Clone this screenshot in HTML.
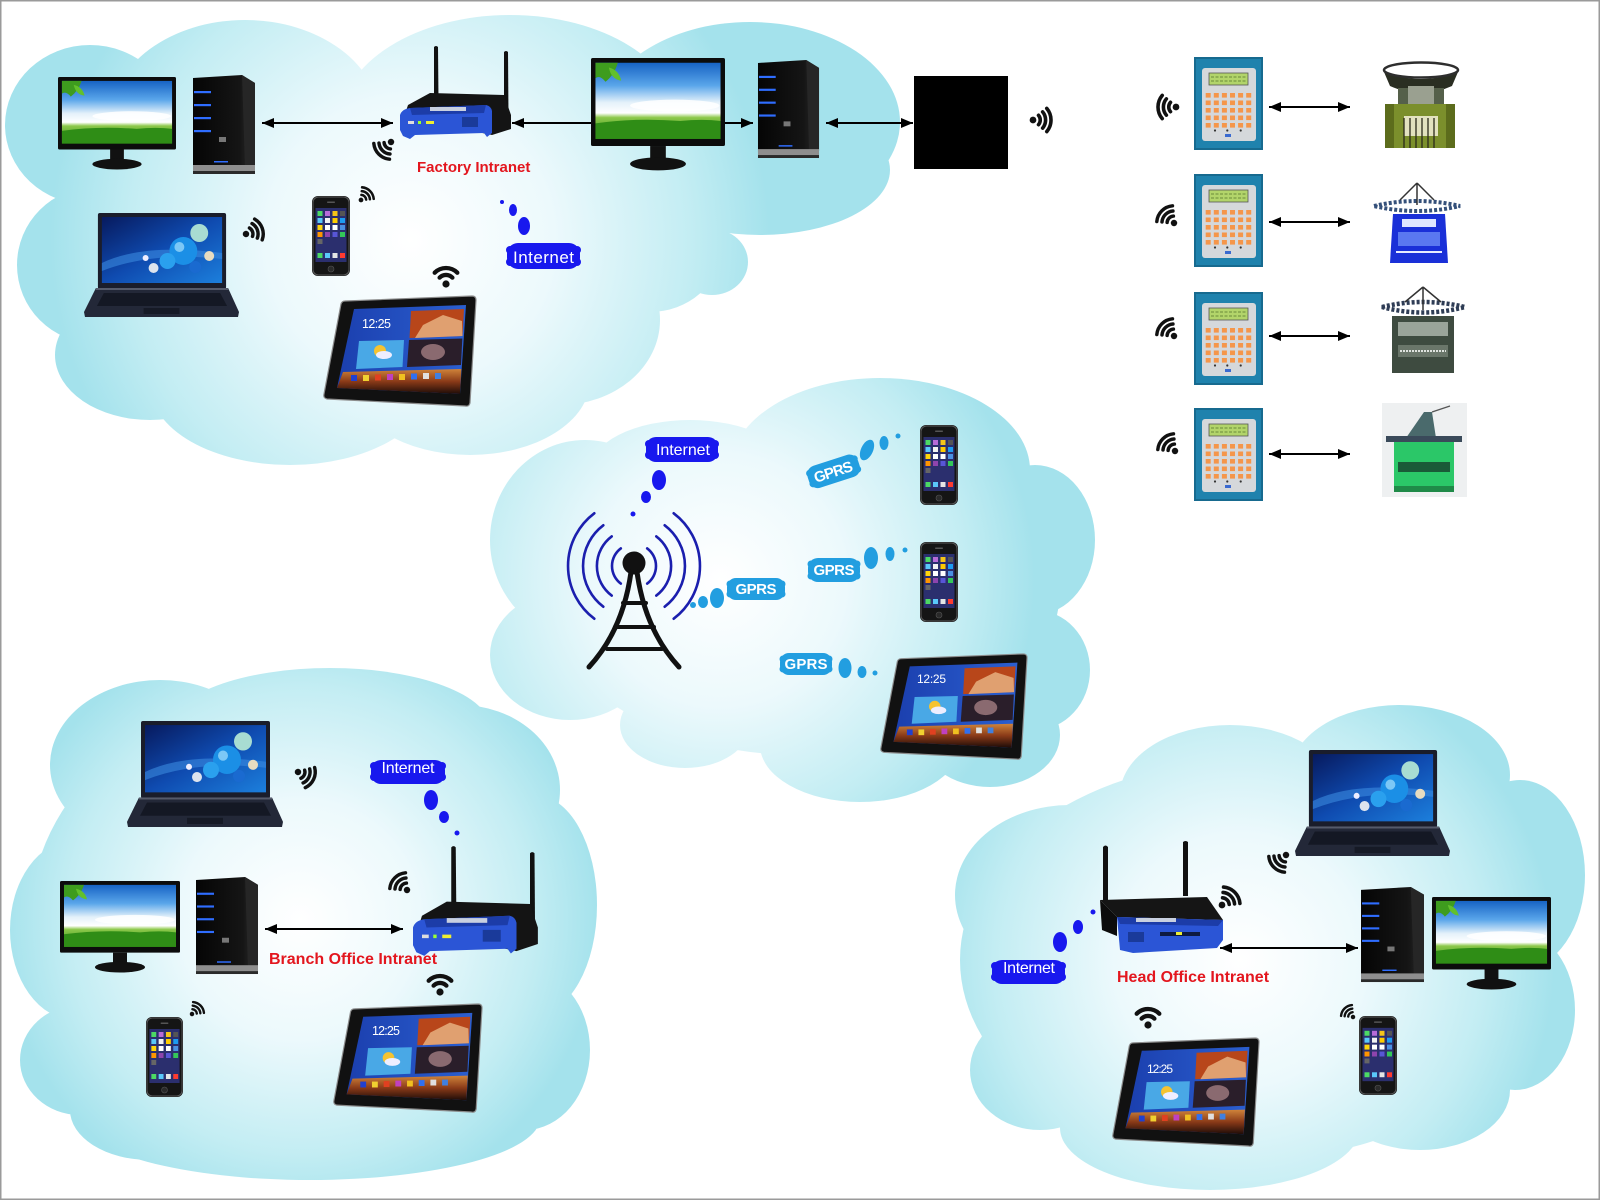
<!DOCTYPE html>
<html><head><meta charset="utf-8"><title>Factory Network</title>
<style>html,body{margin:0;padding:0;background:#fff;width:1600px;height:1200px;overflow:hidden}svg{display:block}</style></head>
<body>
<svg xmlns="http://www.w3.org/2000/svg" width="1600" height="1200" viewBox="0 0 1600 1200" font-family="'Liberation Sans', Arial, sans-serif">
<defs>
<radialGradient id="cg1" gradientUnits="userSpaceOnUse" cx="410" cy="240" r="360"><stop offset="0" stop-color="#ffffff"/><stop offset=".4" stop-color="#ecf9fc"/><stop offset=".78" stop-color="#c3edf3"/><stop offset="1" stop-color="#a4e2ec"/></radialGradient>
<radialGradient id="cg2" gradientUnits="userSpaceOnUse" cx="720" cy="580" r="315"><stop offset="0" stop-color="#ffffff"/><stop offset=".4" stop-color="#ecf9fc"/><stop offset=".78" stop-color="#c3edf3"/><stop offset="1" stop-color="#a4e2ec"/></radialGradient>
<radialGradient id="cg3" gradientUnits="userSpaceOnUse" cx="300" cy="920" r="300"><stop offset="0" stop-color="#ffffff"/><stop offset=".4" stop-color="#ecf9fc"/><stop offset=".78" stop-color="#c3edf3"/><stop offset="1" stop-color="#a4e2ec"/></radialGradient>
<radialGradient id="cg4" gradientUnits="userSpaceOnUse" cx="1240" cy="960" r="315"><stop offset="0" stop-color="#ffffff"/><stop offset=".4" stop-color="#ecf9fc"/><stop offset=".78" stop-color="#c3edf3"/><stop offset="1" stop-color="#a4e2ec"/></radialGradient>
<linearGradient id="sky" x1="0" y1="0" x2="0" y2="1"><stop offset="0" stop-color="#1763c4"/><stop offset=".3" stop-color="#5aa6ea"/><stop offset=".52" stop-color="#e4f1fa"/><stop offset=".66" stop-color="#ffffff"/><stop offset=".72" stop-color="#8cc84a"/><stop offset="1" stop-color="#2f8a16"/></linearGradient>
<linearGradient id="lscr" x1="0" y1="0" x2="1" y2="1"><stop offset="0" stop-color="#071a5e"/><stop offset=".5" stop-color="#0f4bb0"/><stop offset="1" stop-color="#1c7fdc"/></linearGradient>
<linearGradient id="tscr" x1="0" y1="0" x2="1" y2="0"><stop offset="0" stop-color="#1b3fae"/><stop offset="1" stop-color="#2b5fd0"/></linearGradient>
<linearGradient id="tband" x1="0" y1="0" x2="0" y2="1"><stop offset="0" stop-color="#d0843a"/><stop offset=".5" stop-color="#8a3a18"/><stop offset="1" stop-color="#1e0c08"/></linearGradient>
<linearGradient id="towg" x1="0" y1="0" x2="1" y2="0"><stop offset="0" stop-color="#050505"/><stop offset=".75" stop-color="#151515"/><stop offset="1" stop-color="#2c2c2c"/></linearGradient>
<marker id="ar" viewBox="0 0 12 10" refX="12" refY="5" markerWidth="12" markerHeight="10" markerUnits="userSpaceOnUse" orient="auto-start-reverse"><path d="M0 0L12 5L0 10z" fill="#000"/></marker>

<g id="w3"><circle r="2.8" fill="#111"/><path d="M-3.9 -4.6A6 6 0 0 1 3.9 -4.6M-6.75 -8.04A10.5 10.5 0 0 1 6.75 -8.04M-9.64 -11.49A15 15 0 0 1 9.64 -11.49" fill="none" stroke="#111" stroke-width="3" stroke-linecap="round"/></g>
<g id="wu"><circle r="3.6" fill="#111"/><path d="M-6.4 -6.4A9 9 0 0 1 6.4 -6.4M-11.3 -11.3A16 16 0 0 1 11.3 -11.3" fill="none" stroke="#111" stroke-width="4.3" stroke-linecap="round"/></g>

<symbol id="mon" viewBox="0 0 120 95" preserveAspectRatio="none">
<rect x="0" y="0" width="120" height="74" rx="1.5" fill="#0c0c0c"/>
<rect x="4" y="4" width="112" height="64" fill="url(#sky)"/>
<ellipse cx="75" cy="40" rx="40" ry="5" fill="#fff" opacity=".85"/>
<path d="M4 4 L24 4 Q21 14 13 20 Q8 14 4 17Z" fill="#3e9c1e"/>
<path d="M16 8 q9 2 11 11 q-9 -1 -11 -11z" fill="#62c02c"/>
<path d="M4 55 Q40 50 80 53 Q100 51 116 53 L116 68 L4 68Z" fill="#2f8d16"/>
<rect x="53" y="74" width="14" height="11" fill="#111"/>
<ellipse cx="60" cy="89" rx="25" ry="5.5" fill="#111"/>
</symbol>

<symbol id="tow" viewBox="0 0 64 100" preserveAspectRatio="none">
<path d="M1 3 L50 0 L63 8 L63 92 L1 94 Z" fill="url(#towg)"/>
<path d="M50 0 L63 8 L63 92 L53 94 Z" fill="#262626"/>
<rect x="1" y="90" width="62" height="6" fill="#8e8e8e"/>
<rect x="1" y="96" width="62" height="3" fill="#2a2a2a"/>
<rect x="2" y="16" width="17" height="2.2" fill="#2f6dff"/>
<rect x="2" y="29" width="17" height="2.2" fill="#2f6dff"/>
<rect x="2" y="42" width="17" height="2.2" fill="#2f6dff"/>
<rect x="2" y="55" width="17" height="2.2" fill="#2f6dff"/>
<rect x="27" y="62" width="7" height="5" fill="#777"/>
<rect x="22" y="86" width="14" height="1.5" fill="#2f6dff"/>
</symbol>

<symbol id="ph" viewBox="0 0 38 80" preserveAspectRatio="none">
<rect width="38" height="80" rx="6" fill="#151515"/>
<rect x="1" y="1" width="36" height="78" rx="5.5" fill="none" stroke="#5a5a5a" stroke-width="1"/>
<rect x="3.5" y="12" width="31" height="54" fill="#2b2f6e"/>
<rect x="5.5" y="15" width="5" height="5" fill="#4cd964"/><rect x="13" y="15" width="5" height="5" fill="#b76bd8"/><rect x="20.5" y="15" width="5" height="5" fill="#f5c518"/><rect x="28" y="15" width="5" height="5" fill="#555"/>
<rect x="5.5" y="22" width="5" height="5" fill="#5ac8fa"/><rect x="13" y="22" width="5" height="5" fill="#f2f2f2"/><rect x="20.5" y="22" width="5" height="5" fill="#ffcc00"/><rect x="28" y="22" width="5" height="5" fill="#1d9bf0"/>
<rect x="5.5" y="29" width="5" height="5" fill="#ffd60a"/><rect x="13" y="29" width="5" height="5" fill="#fff"/><rect x="20.5" y="29" width="5" height="5" fill="#fff"/><rect x="28" y="29" width="5" height="5" fill="#4a90e2"/>
<rect x="5.5" y="36" width="5" height="5" fill="#ff9500"/><rect x="13" y="36" width="5" height="5" fill="#8e44ad"/><rect x="20.5" y="36" width="5" height="5" fill="#5856d6"/><rect x="28" y="36" width="5" height="5" fill="#34c759"/>
<rect x="5.5" y="43" width="5" height="5" fill="#666"/>
<rect x="5.5" y="57" width="5" height="5" fill="#4cd964"/><rect x="13" y="57" width="5" height="5" fill="#5ac8fa"/><rect x="20.5" y="57" width="5" height="5" fill="#e5e5e5"/><rect x="28" y="57" width="5" height="5" fill="#ff3b30"/>
<rect x="15" y="5.5" width="8" height="1.5" rx=".7" fill="#555"/>
<circle cx="19" cy="73" r="3" fill="#2a2a2a" stroke="#555" stroke-width=".6"/>
</symbol>

<symbol id="tab" viewBox="0 0 154 112" preserveAspectRatio="none">
<path d="M22 6 L149 1 Q153 1 153 5 L147 108 Q146 112 142 111 L4 104 Q0 103 1 99 L18 9 Q19 6 22 6Z" fill="#111" stroke="#8c8c8c" stroke-width="1.2"/>
<path d="M31 14 L143 10 L137 99 L14 93Z" fill="url(#tscr)"/>
<path d="M88 16 L141 14 L139.5 41 L86.5 43Z" fill="#b8461a"/>
<path d="M100 30 L120 20 L139 26 L139.5 41 L92 43Z" fill="#e0a070"/>
<path d="M86 45 L139.3 43.5 L138 70 L84 72Z" fill="#2a1e2a"/>
<ellipse cx="110" cy="57" rx="12" ry="8" fill="#8a6a70"/>
<path d="M36 46 L81 45 L79.5 72 L33 74Z" fill="#49a8e6"/>
<circle cx="57" cy="56" r="6" fill="#f5c330"/>
<ellipse cx="61" cy="60" rx="8" ry="4" fill="#eef"/>
<path d="M20 77 L138.3 74 L137 99 L14 93Z" fill="url(#tband)"/>
<rect x="28" y="80" width="6" height="6" fill="#2040d0"/><rect x="40" y="80" width="6" height="6" fill="#f0d030"/><rect x="52" y="79.5" width="6" height="6" fill="#e04020"/><rect x="64" y="79" width="6" height="6" fill="#c040c0"/><rect x="76" y="79" width="6" height="6" fill="#f0c020"/><rect x="88" y="78.5" width="6" height="6" fill="#3070f0"/><rect x="100" y="78" width="6" height="6" fill="#e0e0e0"/><rect x="112" y="78" width="6" height="6" fill="#4080e0"/>
</symbol>

<symbol id="lap" viewBox="0 0 156 104" preserveAspectRatio="none">
<rect x="14" y="0" width="129" height="76" rx="2" fill="#1a1d2b"/>
<rect x="18" y="4" width="121" height="66" fill="url(#lscr)"/>
<path d="M18 50 Q60 30 139 40 L139 46 Q70 38 18 58Z" fill="#3a8ae0" opacity=".6"/>
<circle cx="100" cy="38" r="14" fill="#1b8fe6"/>
<circle cx="96" cy="34" r="5" fill="#7cc8f6"/>
<circle cx="116" cy="20" r="9" fill="#a8dcd2"/>
<circle cx="84" cy="48" r="8" fill="#2aa0ee"/>
<circle cx="126" cy="43" r="5" fill="#e8dcc0"/>
<circle cx="70" cy="55" r="5" fill="#dde4ee"/>
<circle cx="112" cy="54" r="6" fill="#1a6ad0"/>
<circle cx="62" cy="45" r="3" fill="#eef"/>
<path d="M12 75 L145 75 L156 99 L155 104 L1 104 L0 99 Z" fill="#232838"/>
<path d="M20 80 L137 80 L144 93 L13 93 Z" fill="#141824"/>
<rect x="60" y="95" width="36" height="6" fill="#161a26"/>
<rect x="12" y="75" width="133" height="2" fill="#555a6a"/>
</symbol>

<symbol id="kp" viewBox="0 0 69 93" preserveAspectRatio="none">
<rect width="69" height="93" fill="#1f82ad"/>
<rect x="1" y="1" width="67" height="91" fill="none" stroke="#176a8f" stroke-width="2"/>
<rect x="8" y="11" width="54" height="73" rx="3" fill="#d5d8db"/>
<rect x="15" y="16" width="39" height="12" fill="#b2d46a" stroke="#555" stroke-width=".8"/>
<path d="M17 20 H52 M17 24 H52" stroke="#6a8a3a" stroke-width="1" stroke-dasharray="3 1.5"/>
<g fill="#f5964a">
<rect x="11.7" y="36" width="5" height="4.6"/><rect x="19.8" y="36" width="5" height="4.6"/><rect x="27.9" y="36" width="5" height="4.6"/><rect x="36" y="36" width="5" height="4.6"/><rect x="44.1" y="36" width="5" height="4.6"/><rect x="52.2" y="36" width="5" height="4.6"/>
<rect x="11.7" y="43.5" width="5" height="4.6"/><rect x="19.8" y="43.5" width="5" height="4.6"/><rect x="27.9" y="43.5" width="5" height="4.6"/><rect x="36" y="43.5" width="5" height="4.6"/><rect x="44.1" y="43.5" width="5" height="4.6"/><rect x="52.2" y="43.5" width="5" height="4.6"/>
<rect x="11.7" y="51" width="5" height="4.6"/><rect x="19.8" y="51" width="5" height="4.6"/><rect x="27.9" y="51" width="5" height="4.6"/><rect x="36" y="51" width="5" height="4.6"/><rect x="44.1" y="51" width="5" height="4.6"/><rect x="52.2" y="51" width="5" height="4.6"/>
<rect x="11.7" y="58.5" width="5" height="4.6"/><rect x="19.8" y="58.5" width="5" height="4.6"/><rect x="27.9" y="58.5" width="5" height="4.6"/><rect x="36" y="58.5" width="5" height="4.6"/><rect x="44.1" y="58.5" width="5" height="4.6"/><rect x="52.2" y="58.5" width="5" height="4.6"/>
<rect x="11.7" y="66" width="5" height="4.6"/><rect x="19.8" y="66" width="5" height="4.6"/><rect x="27.9" y="66" width="5" height="4.6"/><rect x="36" y="66" width="5" height="4.6"/><rect x="44.1" y="66" width="5" height="4.6"/><rect x="52.2" y="66" width="5" height="4.6"/>
</g>
<circle cx="21" cy="73.5" r="1.1" fill="#333"/><circle cx="33.3" cy="73.5" r="1.1" fill="#333"/><circle cx="46.7" cy="73.5" r="1.1" fill="#333"/>
<rect x="31" y="77" width="6" height="3" fill="#3a6ad0"/>
</symbol>

<symbol id="rtF" viewBox="0 0 112 95" preserveAspectRatio="none">
<path d="M34 2 Q36 0 38 2 L38.5 55 L34 55 Z" fill="#111"/>
<path d="M104 7 Q106 5 108 7 L108.5 72 L104 72 Z" fill="#111"/>
<path d="M8 60 L30 48 L104 50 L111 70 L111 84 L92 90 L4 72 Z" fill="#141414"/>
<path d="M0 70 Q2 64 10 63 L86 60 Q91 61 92 66 L92 88 L87 92 L84 88 L15 90 L10 94 L3 91 L0 85 Z" fill="#2b55d6"/>
<path d="M10 63 L86 60 L84 68 L12 70 Z" fill="#1c3ca8"/>
<rect x="30" y="62" width="36" height="4" fill="#c8d0e0"/>
<rect x="8" y="76" width="6" height="3" fill="#ddd"/><rect x="18" y="76" width="3" height="3" fill="#9f3"/><rect x="26" y="76" width="8" height="3" fill="#ee3"/>
<rect x="62" y="72" width="16" height="10" fill="#1a3a9a"/>
</symbol>

<symbol id="rtH" viewBox="0 0 128 115" preserveAspectRatio="none">
<path d="M5 7 Q7.5 4 10 7 L10 62 L5 62 Z" fill="#111"/>
<path d="M85 2 Q87.5 0 90 2 L90 56 L85 56 Z" fill="#111"/>
<path d="M2 60 L109 57 L125 80 L19 77 Z" fill="#151515"/>
<path d="M2 60 L19 77 L19 96 L4 90 Z" fill="#0c0c0c"/>
<path d="M19 77 L125 80 L125 100 L119 108 L35 113 L22 110 Z" fill="#2b55d6"/>
<path d="M19 77 L125 80 L120 86 L22 84 Z" fill="#1c3ca8"/>
<rect x="38" y="78" width="40" height="4" fill="#c8d0e0"/>
<rect x="30" y="92" width="16" height="10" fill="#1a3a9a"/>
<rect x="62" y="92" width="40" height="4" fill="#0e1a40"/>
<rect x="78" y="92" width="6" height="3" fill="#ee3"/>
</symbol>
</defs>

<rect width="1600" height="1200" fill="#fff"/>

<!-- Clouds -->
<g fill="url(#cg1)">
<ellipse cx="90" cy="125" rx="85" ry="80"/>
<ellipse cx="245" cy="120" rx="135" ry="100"/>
<ellipse cx="510" cy="122" rx="170" ry="107"/>
<ellipse cx="750" cy="122" rx="150" ry="100"/>
<ellipse cx="760" cy="170" rx="130" ry="65"/>
<ellipse cx="650" cy="250" rx="70" ry="62"/>
<ellipse cx="712" cy="262" rx="36" ry="33"/>
<ellipse cx="560" cy="320" rx="100" ry="85"/>
<ellipse cx="340" cy="250" rx="300" ry="165"/>
<ellipse cx="95" cy="265" rx="78" ry="78"/>
<ellipse cx="150" cy="355" rx="95" ry="65"/>
<ellipse cx="290" cy="385" rx="140" ry="80"/>
<ellipse cx="470" cy="380" rx="120" ry="75"/>
</g>
<g fill="url(#cg2)">
<ellipse cx="800" cy="590" rx="260" ry="165"/>
<ellipse cx="880" cy="470" rx="150" ry="92"/>
<ellipse cx="690" cy="470" rx="100" ry="50"/>
<ellipse cx="585" cy="540" rx="95" ry="100"/>
<ellipse cx="570" cy="655" rx="80" ry="65"/>
<ellipse cx="1035" cy="540" rx="60" ry="75"/>
<ellipse cx="1035" cy="670" rx="55" ry="60"/>
<ellipse cx="685" cy="725" rx="65" ry="43"/>
<ellipse cx="860" cy="745" rx="100" ry="57"/>
<ellipse cx="990" cy="735" rx="70" ry="52"/>
</g>
<g fill="url(#cg3)">
<ellipse cx="300" cy="920" rx="270" ry="230"/>
<ellipse cx="160" cy="765" rx="110" ry="85"/>
<ellipse cx="330" cy="728" rx="160" ry="60"/>
<ellipse cx="460" cy="790" rx="100" ry="85"/>
<ellipse cx="535" cy="905" rx="62" ry="110"/>
<ellipse cx="525" cy="1050" rx="65" ry="80"/>
<ellipse cx="75" cy="930" rx="65" ry="90"/>
<ellipse cx="80" cy="1060" rx="60" ry="55"/>
<ellipse cx="310" cy="1118" rx="230" ry="62"/>
<ellipse cx="150" cy="1110" rx="80" ry="50"/>
</g>
<g fill="url(#cg4)">
<ellipse cx="1250" cy="960" rx="290" ry="200"/>
<ellipse cx="1070" cy="895" rx="115" ry="90"/>
<ellipse cx="1230" cy="795" rx="110" ry="70"/>
<ellipse cx="1400" cy="775" rx="110" ry="70"/>
<ellipse cx="1520" cy="875" rx="65" ry="95"/>
<ellipse cx="1515" cy="1010" rx="60" ry="80"/>
<ellipse cx="1040" cy="1070" rx="70" ry="60"/>
<ellipse cx="1210" cy="1128" rx="150" ry="62"/>
<ellipse cx="1420" cy="1090" rx="90" ry="60"/>
</g>

<!-- Arrows -->
<g stroke="#000" stroke-width="2" marker-start="url(#ar)" marker-end="url(#ar)">
<line x1="262" y1="123" x2="393" y2="123"/>
<line x1="512" y1="123" x2="753" y2="123"/>
<line x1="826" y1="123" x2="913" y2="123"/>
<line x1="1269" y1="107" x2="1350" y2="107"/>
<line x1="1269" y1="222" x2="1350" y2="222"/>
<line x1="1269" y1="336" x2="1350" y2="336"/>
<line x1="1269" y1="454" x2="1350" y2="454"/>
<line x1="265" y1="929" x2="403" y2="929"/>
<line x1="1220" y1="948" x2="1358" y2="948"/>
</g>

<!-- Factory cloud devices -->
<use href="#mon" x="58" y="77" width="118" height="93"/>
<use href="#tow" x="192" y="75" width="64" height="100"/>
<use href="#rtF" x="400" y="45" width="112" height="95"/>
<use href="#mon" x="591" y="58" width="134" height="113"/>
<use href="#tow" x="757" y="60" width="63" height="99"/>
<rect x="914" y="76" width="94" height="93" fill="#000"/>
<use href="#lap" x="84" y="213" width="155" height="104"/>
<use href="#ph" x="312" y="196" width="38" height="80"/>
<use href="#tab" x="323" y="295" width="154" height="112"/>
<text x="362" y="328" font-size="12.5" fill="#fff" textLength="29">12:25</text>
<text x="417" y="172" font-size="15" font-weight="bold" fill="#e3161e">Factory Intranet</text>
<g fill="#1818ee">
<circle cx="502" cy="202" r="2"/>
<ellipse cx="513" cy="210" rx="4" ry="6"/>
<ellipse cx="524" cy="226" rx="6" ry="9"/>
<rect x="507" y="243" width="73" height="26" rx="11"/>
<circle cx="510" cy="250" r="4"/><circle cx="510" cy="262" r="4"/><circle cx="577" cy="250" r="4"/><circle cx="577" cy="262" r="4"/>
</g>
<text x="543.5" y="263" font-size="17" fill="#fff" text-anchor="middle" textLength="61">Internet</text>
<use href="#w3" transform="translate(391,142) rotate(-135) scale(1.15)"/>
<use href="#w3" transform="translate(361,200) rotate(45) scale(0.85)"/>
<use href="#w3" transform="translate(246,234) rotate(70) scale(1.15)"/>
<use href="#wu" transform="translate(446,284)"/>
<use href="#w3" transform="translate(1033,120) rotate(90) scale(1.2)"/>

<!-- Keypads & machines -->
<use href="#kp" x="1194" y="57" width="69" height="93"/>
<use href="#kp" x="1194" y="174" width="69" height="93"/>
<use href="#kp" x="1194" y="292" width="69" height="93"/>
<use href="#kp" x="1194" y="408" width="69" height="93"/>
<use href="#w3" transform="translate(1176,107) rotate(-90) scale(1.2)"/>
<use href="#w3" transform="translate(1174,223) rotate(-45) scale(1.15)"/>
<use href="#w3" transform="translate(1174,336) rotate(-45) scale(1.15)"/>
<use href="#w3" transform="translate(1175,451) rotate(-45) scale(1.15)"/>

<g>
<path d="M1384 72 Q1421 86 1458 72 L1452 86 Q1421 100 1390 86Z" fill="#2a2e22"/>
<ellipse cx="1421" cy="70" rx="37" ry="7.5" fill="none" stroke="#2e2e2e" stroke-width="2.5"/>
<rect x="1398" y="88" width="46" height="18" fill="#55604a"/>
<rect x="1408" y="86" width="26" height="22" fill="#9aa090"/>
<rect x="1385" y="104" width="70" height="44" fill="#7b8f2c"/>
<rect x="1385" y="104" width="9" height="44" fill="#5c6c1c"/>
<rect x="1446" y="104" width="9" height="44" fill="#5c6c1c"/>
<rect x="1404" y="116" width="34" height="20" fill="#e2e2bf"/>
<path d="M1404 118 V148 M1410 118 V148 M1416 118 V148 M1422 118 V148 M1428 118 V148 M1434 118 V148" stroke="#2a2a1a" stroke-width="1.3"/>
</g>
<g>
<path d="M1374 206 Q1417 196 1460 206 Q1417 216 1374 206Z" fill="none" stroke="#34507a" stroke-width="4" stroke-dasharray="3 2"/>
<path d="M1417 183 L1400 200 M1417 183 L1434 200 M1417 183 V205" stroke="#333" stroke-width="1.5"/>
<path d="M1393 214 L1445 214 L1448 263 L1390 263Z" fill="#1a30d8"/>
<rect x="1402" y="219" width="34" height="8" fill="#dfe6ff"/>
<rect x="1398" y="232" width="42" height="14" fill="#5a78f0"/>
<path d="M1396 252 H1442" stroke="#e8ecff" stroke-width="2"/>
</g>
<g>
<path d="M1382 307 Q1423 297 1465 307 Q1423 318 1382 307Z" fill="none" stroke="#2e3c55" stroke-width="4.5" stroke-dasharray="3 2"/>
<path d="M1423 287 L1405 302 M1423 287 L1441 302 M1423 287 V310" stroke="#333" stroke-width="1.5"/>
<rect x="1392" y="316" width="62" height="57" fill="#3e4b40"/>
<rect x="1398" y="322" width="50" height="14" fill="#9aa49a"/>
<rect x="1398" y="345" width="50" height="12" fill="#6a766a"/>
<path d="M1400 351 H1446" stroke="#dfe3df" stroke-width="2" stroke-dasharray="2 1"/>
</g>
<g>
<rect x="1382" y="403" width="85" height="94" fill="#eef0f1"/>
<path d="M1406 438 L1424 412 L1432 412 L1436 438Z" fill="#4a6a6c"/>
<path d="M1432 412 L1450 406" stroke="#555" stroke-width="1.2"/>
<rect x="1386" y="436" width="76" height="6" fill="#3a4a5a"/>
<rect x="1394" y="442" width="60" height="50" fill="#2bc768"/>
<rect x="1398" y="462" width="52" height="10" fill="#1a5a38"/>
<rect x="1394" y="486" width="60" height="6" fill="#1f8a48"/>
</g>

<!-- Middle cloud -->
<g fill="#1818ee">
<ellipse cx="659" cy="480" rx="7" ry="10"/>
<ellipse cx="646" cy="497" rx="5" ry="6"/>
<circle cx="633" cy="514" r="2.5"/>
<rect x="646" y="437" width="72" height="25" rx="10"/>
<circle cx="649" cy="444" r="4"/><circle cx="649" cy="455" r="4"/><circle cx="715" cy="444" r="4"/><circle cx="715" cy="455" r="4"/>
</g>
<text x="683" y="455" font-size="16" fill="#fff" text-anchor="middle" textLength="54">Internet</text>

<g fill="none" stroke="#1b1fae" stroke-width="2.6" stroke-linecap="round">
<path d="M620.8 548.4A22 22 0 0 0 620.8 583.6M647.2 548.4A22 22 0 0 1 647.2 583.6"/>
<path d="M611.7 536.4A37 37 0 0 0 611.7 595.6M656.3 536.4A37 37 0 0 1 656.3 595.6"/>
<path d="M603.3 525.3A51 51 0 0 0 603.3 606.7M664.7 525.3A51 51 0 0 1 664.7 606.7"/>
<path d="M594.3 513.3A66 66 0 0 0 594.3 618.7M673.7 513.3A66 66 0 0 1 673.7 618.7"/>
</g>
<circle cx="634" cy="563" r="11.5" fill="#111"/>
<g stroke="#111" fill="none" stroke-linecap="round">
<path d="M631 572 Q623 630 589 667M637 572 Q645 630 679 667" stroke-width="5"/>
<path d="M623 603 H646M615 627 H654M607 649 H662" stroke-width="4"/>
</g>

<g fill="#229ee0">
<circle cx="693" cy="605" r="3"/>
<ellipse cx="703" cy="602" rx="5" ry="6"/>
<ellipse cx="717" cy="598" rx="7" ry="10"/>
<rect x="727" y="578" width="58" height="22" rx="9"/>
<circle cx="730" cy="584" r="3.5"/><circle cx="730" cy="594" r="3.5"/><circle cx="782" cy="584" r="3.5"/><circle cx="782" cy="594" r="3.5"/>

<ellipse cx="867" cy="450" rx="6" ry="11" transform="rotate(25 867 450)"/>
<ellipse cx="884" cy="443" rx="4.5" ry="7"/>
<circle cx="898" cy="436" r="2.5"/>
<g transform="rotate(-18 833 471)">
<rect x="807" y="460" width="53" height="23" rx="9"/>
<circle cx="810" cy="466" r="3.5"/><circle cx="810" cy="477" r="3.5"/><circle cx="857" cy="466" r="3.5"/><circle cx="857" cy="477" r="3.5"/>
</g>

<ellipse cx="871" cy="558" rx="7" ry="11"/>
<ellipse cx="890" cy="554" rx="4.5" ry="7"/>
<circle cx="905" cy="550" r="2.5"/>
<rect x="808" y="558" width="52" height="24" rx="10"/>
<circle cx="811" cy="564" r="3.5"/><circle cx="811" cy="576" r="3.5"/><circle cx="857" cy="564" r="3.5"/><circle cx="857" cy="576" r="3.5"/>

<ellipse cx="845" cy="668" rx="6.5" ry="10"/>
<ellipse cx="862" cy="672" rx="4.5" ry="6"/>
<circle cx="875" cy="673" r="2.5"/>
<rect x="780" y="653" width="52" height="22" rx="9"/>
<circle cx="783" cy="659" r="3.5"/><circle cx="783" cy="669" r="3.5"/><circle cx="829" cy="659" r="3.5"/><circle cx="829" cy="669" r="3.5"/>
</g>
<g fill="#fff" font-weight="bold" font-size="15" text-anchor="middle">
<text x="756" y="594" textLength="41">GPRS</text>
<text x="833" y="477" textLength="40" transform="rotate(-18 833 471)">GPRS</text>
<text x="834" y="575" textLength="41">GPRS</text>
<text x="806" y="669" textLength="43">GPRS</text>
</g>
<use href="#ph" x="920" y="425" width="38" height="80"/>
<use href="#ph" x="920" y="542" width="38" height="80"/>
<use href="#tab" x="880" y="653" width="148" height="107"/>
<text x="917" y="683" font-size="12" fill="#fff" textLength="29">12:25</text>

<!-- Branch office -->
<use href="#lap" x="127" y="721" width="156" height="106"/>
<use href="#w3" transform="translate(298,772) rotate(115) scale(1.15)"/>
<g fill="#1818ee">
<ellipse cx="431" cy="800" rx="7" ry="10"/>
<ellipse cx="444" cy="817" rx="5" ry="6"/>
<circle cx="457" cy="833" r="2.5"/>
<rect x="371" y="760" width="74" height="24" rx="10"/>
<circle cx="374" cy="766" r="4"/><circle cx="374" cy="777" r="4"/><circle cx="442" cy="766" r="4"/><circle cx="442" cy="777" r="4"/>
</g>
<text x="408" y="773" font-size="16" fill="#fff" text-anchor="middle" textLength="53">Internet</text>
<use href="#rtF" x="413" y="845" width="126" height="112"/>
<use href="#w3" transform="translate(407,890) rotate(-45) scale(1.15)"/>
<use href="#mon" x="60" y="881" width="120" height="92"/>
<use href="#tow" x="195" y="877" width="64" height="98"/>
<text x="269" y="964" font-size="16" font-weight="bold" fill="#e3161e">Branch Office Intranet</text>
<use href="#wu" transform="translate(440,992)"/>
<use href="#ph" x="146" y="1017" width="37" height="80"/>
<use href="#w3" transform="translate(192,1014) rotate(45) scale(0.8)"/>
<use href="#tab" x="333" y="1003" width="150" height="110"/>
<text x="372" y="1035" font-size="12.5" fill="#fff" textLength="28">12:25</text>

<!-- Head office -->
<use href="#lap" x="1295" y="750" width="155" height="106"/>
<use href="#w3" transform="translate(1286,855) rotate(-135) scale(1.15)"/>
<use href="#rtH" x="1098" y="840" width="128" height="115"/>
<use href="#w3" transform="translate(1222,905) rotate(45) scale(1.2)"/>
<g fill="#1818ee">
<circle cx="1093" cy="912" r="2.5"/>
<ellipse cx="1078" cy="927" rx="5" ry="7"/>
<ellipse cx="1060" cy="942" rx="7" ry="10"/>
<rect x="992" y="960" width="73" height="24" rx="10"/>
<circle cx="995" cy="966" r="4"/><circle cx="995" cy="977" r="4"/><circle cx="1062" cy="966" r="4"/><circle cx="1062" cy="977" r="4"/>
</g>
<text x="1029" y="973" font-size="16" fill="#fff" text-anchor="middle" textLength="52">Internet</text>
<text x="1117" y="982" font-size="16" font-weight="bold" fill="#e3161e">Head Office Intranet</text>
<use href="#tow" x="1360" y="887" width="65" height="96"/>
<use href="#mon" x="1432" y="897" width="119" height="93"/>
<use href="#wu" transform="translate(1148,1025)"/>
<use href="#tab" x="1112" y="1037" width="148" height="110"/>
<text x="1147" y="1073" font-size="12" fill="#fff" textLength="26">12:25</text>
<use href="#ph" x="1359" y="1016" width="38" height="79"/>
<use href="#w3" transform="translate(1353,1017) rotate(-45) scale(0.8)"/>

<rect x="0.75" y="0.75" width="1598.5" height="1198.5" fill="none" stroke="#9a9a9a" stroke-width="1.5"/>
</svg>
</body></html>
